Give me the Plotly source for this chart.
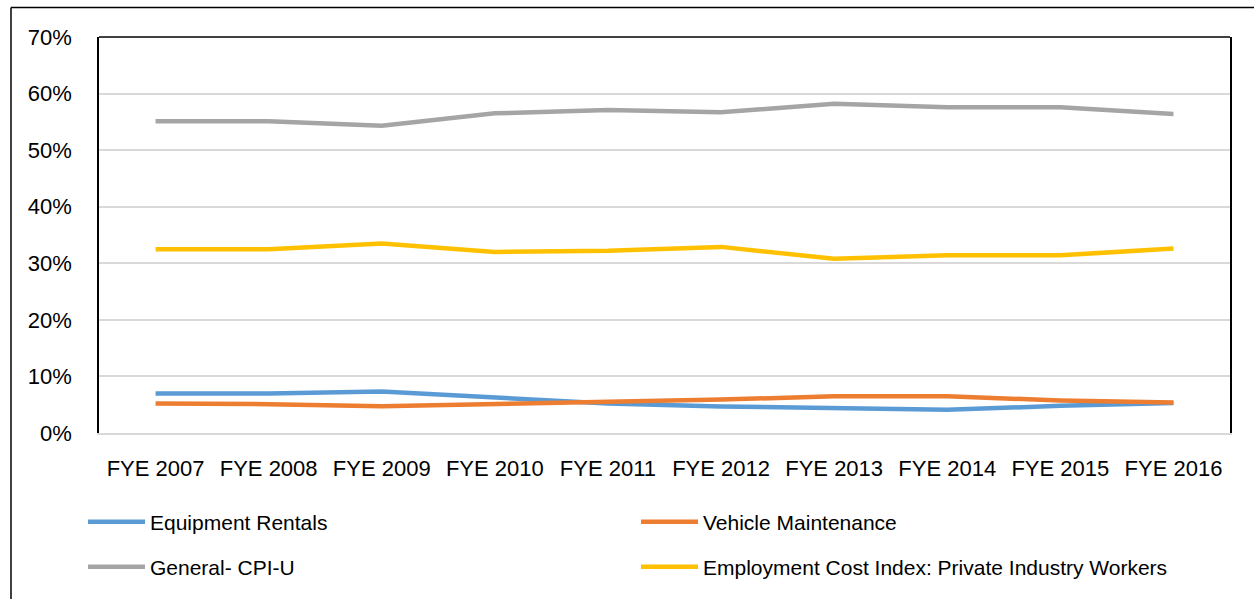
import plotly.graph_objects as go

categories = ["FYE 2007", "FYE 2008", "FYE 2009", "FYE 2010", "FYE 2011",
              "FYE 2012", "FYE 2013", "FYE 2014", "FYE 2015", "FYE 2016"]
equipment_rentals = [0.070, 0.070, 0.0735, 0.062, 0.052, 0.047, 0.044, 0.041, 0.048, 0.053]
vehicle_maintenance = [0.052, 0.051, 0.0475, 0.051, 0.054, 0.059, 0.065, 0.065, 0.0575, 0.054]
general_cpi_u = [0.551, 0.551, 0.543, 0.565, 0.571, 0.567, 0.582, 0.576, 0.576, 0.564]
eci_private = [0.325, 0.325, 0.335, 0.320, 0.322, 0.329, 0.308, 0.314, 0.314, 0.326]

series = [
    ("Equipment Rentals", equipment_rentals, "#5B9BD5", "legend"),
    ("Vehicle Maintenance", vehicle_maintenance, "#ED7D31", "legend"),
    ("General- CPI-U", general_cpi_u, "#A5A5A5", "legend2"),
    ("Employment Cost Index: Private Industry Workers", eci_private, "#FFC000", "legend2"),
]

W, H = 1254, 599
L, R, T, B = 99, 1230, 37, 433
pw, ph = R - L, B - T

def px_x(x):
    return (x - L) / pw

def px_y(y):
    return (B - y) / ph

FONT = "Liberation Sans"
FS = 22
LEG_FS = 21

fig = go.Figure()
for name, vals, color, lg in series:
    fig.add_trace(go.Scatter(
        x=categories, y=vals, name=name, mode="lines",
        line=dict(color=color, width=4.5), legend=lg,
    ))

legend_common = dict(
    orientation="h", xanchor="left", yanchor="middle",
    entrywidth=481, entrywidthmode="pixels",
    font=dict(family=FONT, size=LEG_FS, color="#000000"),
    bgcolor="rgba(0,0,0,0)", itemwidth=57, tracegroupgap=0,
)

fig.update_layout(
    width=W, height=H,
    margin=dict(l=L, r=W - R, t=T, b=H - B),
    paper_bgcolor="white", plot_bgcolor="white",
    font=dict(family=FONT, size=FS, color="#000000"),
    showlegend=True,
    legend=dict(x=px_x(83), y=px_y(522), **legend_common),
    legend2=dict(x=px_x(83), y=px_y(567), **legend_common),
    xaxis=dict(
        type="category", range=[-0.5, 9.5],
        showline=True, linecolor="#D9D9D9", linewidth=1.5,
        showgrid=False, ticks="", ticklabelstandoff=15,
        tickfont=dict(family=FONT, size=FS, color="#000000"),
    ),
    yaxis=dict(
        range=[0, 0.7], dtick=0.1, tickformat=".0%",
        showline=True, linecolor="#000000", linewidth=1.5, mirror=True,
        showgrid=True, gridcolor="#D9D9D9", gridwidth=1.5,
        zeroline=False, ticks="", ticklabelstandoff=21,
        tickfont=dict(family=FONT, size=FS, color="#000000"),
    ),
    shapes=[
        # top border of plot area
        dict(type="line", xref="paper", yref="paper", x0=0, x1=1, y0=1, y1=1,
             line=dict(color="#000000", width=1.5)),
        # outer chart frame (top and left)
        dict(type="line", xref="paper", yref="paper",
             x0=px_x(11), x1=px_x(1254), y0=px_y(7.5), y1=px_y(7.5),
             line=dict(color="#000000", width=1.5)),
        dict(type="line", xref="paper", yref="paper",
             x0=px_x(11), x1=px_x(11), y0=px_y(7.5), y1=px_y(600),
             line=dict(color="#000000", width=1.5)),
    ],
)

fig.write_html(
    "out.html",
    config={"displayModeBar": False},
    post_script="document.body.style.margin='0';document.body.style.padding='0';",
)
